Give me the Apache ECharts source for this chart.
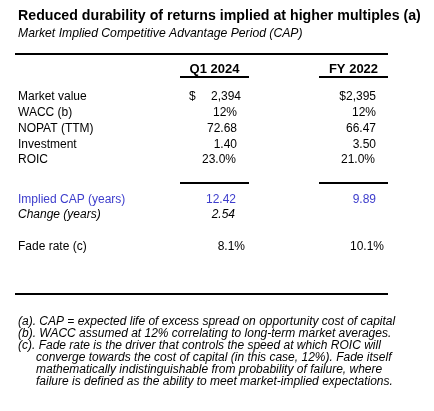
<!DOCTYPE html>
<html><head><meta charset="utf-8">
<script src="https://cdn.jsdelivr.net/npm/echarts@6/dist/echarts.min.js"></script>
<style>html,body{margin:0;padding:0;background:#fff}#c{width:434px;height:411px}</style>
</head><body><div id="c"></div>
<script>
// ---------- data ----------
const titleText = 'Reduced durability of returns implied at higher multiples (a)';
const subtitleText = 'Market Implied Competitive Advantage Period (CAP)';
const columnHeaders = ['Q1 2024', 'FY 2022'];
const rowLabels = ['Market value', 'WACC (b)', 'NOPAT (TTM)', 'Investment', 'ROIC',
  'Implied CAP (years)', 'Change (years)', 'Fade rate (c)'];
const q1_2024 = [2394, 0.12, 72.68, 1.40, 0.230, 12.42, 2.54, 0.081];
const fy_2022 = [2395, 0.12, 66.47, 3.50, 0.210, 9.89, null, 0.101];
const rowFormats = ['usd', 'pct0', 'dec2', 'dec2', 'pct1', 'dec2', 'dec2', 'pct1'];
const footnotes = [
  '(a). CAP = expected life of excess spread on opportunity cost of capital',
  '(b). WACC assumed at 12% correlating to long-term market averages.',
  '(c). Fade rate is the driver that controls the speed at which ROIC will',
  'converge towards the cost of capital (in this case, 12%). Fade itself',
  'mathematically indistinguishable from probability of failure, where',
  'failure is defined as the ability to meet market-implied expectations.'
];

// ---------- layout / style ----------
const FF = '"Liberation Sans", Arial, Helvetica, sans-serif';
const BLUE = '#3d3dcc';
const rowSlots = [0, 1, 2, 3, 4, 6.55, 7.5, 9.5];
const rowBase = 97, rowStep = 15.75;
const labelX = 18, q1Right = 237, fyRight = 376, dollarX = 189;
const q1Adjust = [4, 0, 0, 0, -1, -1, -2, 8];
const fyAdjust = [0, 0, 0, 0, -1, 0, 0, 8];

function fmt(v, f, col) {
  if (v == null) return '';
  if (f === 'usd') return (col === 0 ? '' : '$') + v.toLocaleString('en-US');
  if (f === 'pct0') return (v * 100).toFixed(0) + '%';
  if (f === 'pct1') return (v * 100).toFixed(1) + '%';
  return v.toFixed(2);
}

function rowFont(i) {
  return (i === 6 ? 'italic ' : 'normal ') + '12px ' + FF;
}
function rowColor(i) { return i === 5 ? BLUE : '#000'; }

const chart = echarts.init(document.getElementById('c'), null, { renderer: 'canvas' });

const graphics = [
  { type: 'text', x: 18, y: 16.5, style: { text: titleText, font: 'bold 14.2px ' + FF, fill: '#000', verticalAlign: 'middle' } },
  { type: 'text', x: 18, y: 34, style: { text: subtitleText, font: 'italic 12.2px ' + FF, fill: '#000', verticalAlign: 'middle' } },
  { type: 'line', shape: { x1: 15, y1: 54, x2: 388, y2: 54 }, style: { stroke: '#000', lineWidth: 2 } },
  { type: 'line', shape: { x1: 15, y1: 294, x2: 388, y2: 294 }, style: { stroke: '#000', lineWidth: 2 } }
];
footnotes.forEach(function (t, i) {
  graphics.push({ type: 'text', x: i >= 3 ? 36 : 18, y: 322 + i * 12,
    style: { text: t, font: 'italic 12px ' + FF, fill: '#000', verticalAlign: 'middle' } });
});

const colSpans = [[180, 249], [319, 388]];

chart.setOption({
  animation: false,
  grid: { left: 0, right: 0, top: 0, bottom: 0 },
  xAxis: { type: 'value', min: 0, max: 434, show: false },
  yAxis: { type: 'value', min: 0, max: 411, inverse: true, show: false },
  graphic: graphics,
  series: [
    {
      // column headers + underlines
      type: 'custom', clip: false, silent: true,
      data: columnHeaders.map(function (h, i) { return [i]; }),
      renderItem: function (params, api) {
        const c = params.dataIndex, s = colSpans[c];
        const mid = api.coord([(s[0] + s[1]) / 2, 69]);
        const a = api.coord([s[0], 77]), b = api.coord([s[1], 77]);
        const a2 = api.coord([s[0], 183]), b2 = api.coord([s[1], 183]);
        return { type: 'group', children: [
          { type: 'text', x: mid[0], y: mid[1], style: { text: columnHeaders[c], font: 'bold 13px ' + FF, fill: '#000', align: 'center', verticalAlign: 'middle' } },
          { type: 'line', shape: { x1: a[0], y1: a[1], x2: b[0], y2: b[1] }, style: { stroke: '#000', lineWidth: 2 } },
          { type: 'line', shape: { x1: a2[0], y1: a2[1], x2: b2[0], y2: b2[1] }, style: { stroke: '#000', lineWidth: 2 } }
        ] };
      }
    },
    {
      // table rows
      type: 'custom', clip: false, silent: true,
      data: rowLabels.map(function (l, i) { return [i]; }),
      renderItem: function (params, api) {
        const i = params.dataIndex;
        const y = rowBase + rowSlots[i] * rowStep;
        const font = rowFont(i), fill = rowColor(i);
        const pL = api.coord([labelX, y]);
        const pQ = api.coord([q1Right + q1Adjust[i], y]);
        const pF = api.coord([fyRight + fyAdjust[i], y]);
        const kids = [
          { type: 'text', x: pL[0], y: pL[1], style: { text: rowLabels[i], font: font, fill: fill, verticalAlign: 'middle' } },
          { type: 'text', x: pQ[0], y: pQ[1], style: { text: fmt(q1_2024[i], rowFormats[i], 0), font: font, fill: fill, align: 'right', verticalAlign: 'middle' } },
          { type: 'text', x: pF[0], y: pF[1], style: { text: fmt(fy_2022[i], rowFormats[i], 1), font: font, fill: fill, align: 'right', verticalAlign: 'middle' } }
        ];
        if (rowFormats[i] === 'usd') {
          const pD = api.coord([dollarX, y]);
          kids.push({ type: 'text', x: pD[0], y: pD[1], style: { text: '$', font: font, fill: fill, verticalAlign: 'middle' } });
        }
        return { type: 'group', children: kids };
      }
    }
  ]
});
</script>
</body></html>
